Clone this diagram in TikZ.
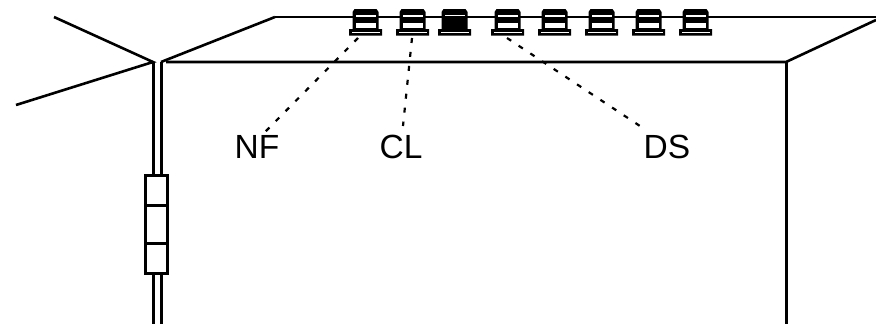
\documentclass[tikz,border=0pt]{standalone}
\usepackage{fontspec}
\setmainfont{Liberation Sans}
\tikzset{
  wire/.style={line width=2.6pt,line cap=butt,line join=miter},
  heavy/.style={line width=3pt,line cap=butt},
  leader/.style={line width=2.2pt,dash pattern=on 5pt off 9pt},
  lab/.style={font=\fontsize{33.5}{33.5}\selectfont,inner sep=0pt,anchor=base}
}
\newcommand{\connector}[2]{%
  \begin{scope}[shift={(#1,0)}]
    \fill[black] (-11,9) -- (11,9) -- (13,12) -- (13,29) -- (16.5,29) -- (16.5,35.5) -- (-16.5,35.5) -- (-16.5,29) -- (-13,29) -- (-13,12) -- cycle;
    #2
  \end{scope}}
\newcommand{\openbody}{\fill[white] (-10,14.5) rectangle (10,17); \fill[white] (-10,23) rectangle (10,27.5); \fill[white] (-14,31.5) rectangle (14,33.2);}
\begin{document}
\begin{tikzpicture}[x=1pt,y=-1pt]
\useasboundingbox (0,0) rectangle (876,324);
% roof and front
\draw[wire] (275,17) -- (876,17);
\draw[wire] (161,62) -- (275,17);
\draw[wire] (166,62) -- (786,62) -- (876,20);
\draw[heavy] (786,62) -- (786,324);
\draw[wire] (54,17) -- (153,62) -- (16,105);
% post
\draw[heavy] (153,62) -- (153,175) (161,62) -- (161,175);
\draw[heavy] (153,273) -- (153,324) (161,273) -- (161,324);
\node[draw,line width=3pt,minimum width=22pt,minimum height=98pt,inner sep=0pt] (box) at (156,224.5) {};
\draw[heavy] (145,205) -- (167,205) (145,243) -- (167,243);
% connectors
\connector{365.5}{\openbody}
\connector{412.5}{\openbody}
\connector{454.5}{\fill[white] (-10,15) rectangle (10,16); \fill[white] (-14,31.5) rectangle (14,33.2);}
\foreach \cx in {507.5,554.5,601.5,648.5,695.5}{
\connector{\cx}{\openbody}
}
% labels
\node[lab] (nf) at (257,158) {NF};
\node[lab] (cl) at (401,158) {CL};
\node[lab] (ds) at (667,158) {DS};
\coordinate (a) at (358,38);
\coordinate (b) at (412,38);
\coordinate (c) at (507,38);
\draw[leader] (a) -- (265,132);
\draw[leader] (b) -- (403,126);
\draw[leader] (c) -- (646,130);
\end{tikzpicture}
\end{document}
